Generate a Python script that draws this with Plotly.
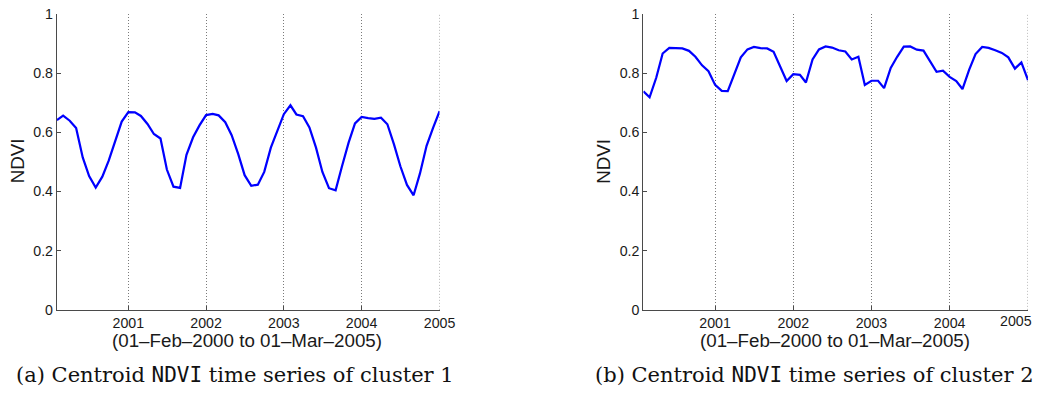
import pandas as pd
import plotly.graph_objects as go

# Monthly sampling dates: 01-Feb-2000 .. 01-Jan-2005
months = pd.date_range("2000-02-01", periods=60, freq="MS")

# Centroid NDVI of cluster 1 (one value per month)
ndvi_cluster1 = [
    0.641, 0.656, 0.639, 0.614, 0.515, 0.452, 0.413, 0.450, 0.504, 0.570, 0.636,
    0.668, 0.667, 0.655, 0.628, 0.594, 0.579, 0.474, 0.416, 0.412, 0.524, 0.583, 0.623,
    0.658, 0.662, 0.657, 0.634, 0.590, 0.526, 0.455, 0.419, 0.423, 0.466, 0.548, 0.603,
    0.661, 0.691, 0.660, 0.654, 0.616, 0.548, 0.466, 0.411, 0.404, 0.485, 0.565, 0.630,
    0.652, 0.648, 0.645, 0.649, 0.627, 0.559, 0.485, 0.422, 0.387, 0.461, 0.554, 0.614,
    0.671,
]

# Centroid NDVI of cluster 2 (one value per month)
ndvi_cluster2 = [
    0.738, 0.718, 0.784, 0.866, 0.885, 0.885, 0.883, 0.875, 0.855, 0.826, 0.806,
    0.760, 0.740, 0.739, 0.800, 0.853, 0.880, 0.888, 0.884, 0.883, 0.872, 0.822, 0.773,
    0.796, 0.794, 0.768, 0.846, 0.880, 0.890, 0.886, 0.877, 0.873, 0.846, 0.855, 0.760,
    0.774, 0.774, 0.749, 0.817, 0.855, 0.889, 0.890, 0.879, 0.876, 0.839, 0.804, 0.808,
    0.787, 0.773, 0.746, 0.811, 0.864, 0.888, 0.885, 0.877, 0.868, 0.853, 0.815, 0.836,
    0.776,
]

year_ticks = ["2001-01-01", "2002-01-01", "2003-01-01", "2004-01-01", "2005-01-01"]
year_labels = ["2001", "2002", "2003", "2004", "2005"]
y_ticks = [0, 0.2, 0.4, 0.6, 0.8, 1]
y_labels = ["0", "0.2", "0.4", "0.6", "0.8", "1"]

x_label = "(01\u2013Feb\u20132000 to 01\u2013Mar\u20132005)"
captions = [
    "(a) Centroid <span style='font-family:DejaVu Sans Mono'>NDVI</span> time series of cluster 1",
    "(b) Centroid <span style='font-family:DejaVu Sans Mono'>NDVI</span> time series of cluster 2",
]

W, H = 1050, 398
# the page is shown slightly reduced (about 1035 px of the 1050 px width);
# layout positions below are given in displayed pixels and converted here
S = 1035 / 1050


def fx(px):
    return px / S / W


def fy(py):
    return (H - py / S) / H


SANS = "Liberation Sans, Arial, sans-serif"
SERIF = "DejaVu Serif, serif"
AXIS_COLOR = "#4a4a4a"
GRID_COLOR = "#7a7a7a"
GRID_DASH = "1px,2px"

fig = go.Figure()
fig.add_trace(go.Scatter(x=months, y=ndvi_cluster1, mode="lines",
                         line=dict(color="#0000ff", width=2.2 / S), xaxis="x", yaxis="y",
                         showlegend=False))
fig.add_trace(go.Scatter(x=months, y=ndvi_cluster2, mode="lines",
                         line=dict(color="#0000ff", width=2.2 / S), xaxis="x2", yaxis="y2",
                         showlegend=False))

# panel placement (left, right) and vertical extent, in displayed pixels
panels = [(57, 440), (644, 1029)]
top_px, bottom_px = 6, 310
ydom = [fy(bottom_px), fy(top_px)]

tick_font = dict(family=SANS, size=14 / S, color="#1a1a1a")
common_x = dict(
    type="date", range=["2000-02-01", "2005-01-01"],
    tickmode="array", tickvals=year_ticks,
    ticks="inside", ticklen=4, tickcolor=AXIS_COLOR,
    showline=True, linecolor=AXIS_COLOR, linewidth=1.2,
    showgrid=True, gridcolor=GRID_COLOR, griddash=GRID_DASH, gridwidth=1,
    zeroline=False, tickfont=tick_font, ticklabeloverflow="allow",
)
common_y = dict(
    range=[0, 1], tickmode="array", tickvals=y_ticks, ticktext=y_labels,
    ticks="inside", ticklen=4, tickcolor=AXIS_COLOR,
    showline=True, linecolor=AXIS_COLOR, linewidth=1.2,
    showgrid=False, zeroline=False, tickfont=tick_font, ticklabeloverflow="allow",
)

# the right panel's last year label sits against the page edge, so it is
# written as an annotation anchored to that edge instead
right_labels = year_labels[:-1] + [""]

layout = dict(
    width=W, height=H, autosize=False, margin=dict(l=0, r=0, t=0, b=0),
    paper_bgcolor="white", plot_bgcolor="white",
    xaxis=dict(common_x, ticktext=year_labels,
               domain=[fx(panels[0][0]), fx(panels[0][1])], anchor="y"),
    yaxis=dict(common_y, domain=ydom, anchor="x"),
    xaxis2=dict(common_x, ticktext=right_labels,
                domain=[fx(panels[1][0]), fx(panels[1][1])], anchor="y2"),
    yaxis2=dict(common_y, domain=ydom, anchor="x2"),
)

# dotted grid line on the last year tick, which sits on the right edge
shapes = []
for xr, yr in (("x", "y"), ("x2", "y2")):
    shapes.append(dict(type="line", xref=xr, yref=yr + " domain",
                       x0=year_ticks[-1], x1=year_ticks[-1], y0=0, y1=1,
                       line=dict(color=GRID_COLOR, width=1, dash=GRID_DASH)))

annotations = []
label_font = dict(family=SANS, size=18.5 / S, color="#1a1a1a")
for l, r in panels:
    cx = (l + r) / 2
    annotations.append(dict(
        text=x_label, xref="paper", yref="paper",
        x=fx(cx - 1), y=fy(341), xanchor="center", yanchor="middle",
        showarrow=False, font=label_font))
    annotations.append(dict(
        text="NDVI", xref="paper", yref="paper", textangle=-90,
        x=fx(l - 39.5), y=fy(157), xanchor="center", yanchor="middle",
        showarrow=False, font=label_font))

annotations.append(dict(
    text=year_labels[-1], xref="paper", yref="paper",
    x=1, y=fy(321), xanchor="right", yanchor="middle",
    showarrow=False, font=tick_font))

cap_centers = [235, 815]
for c, txt in zip(cap_centers, captions):
    annotations.append(dict(
        text=txt, xref="paper", yref="paper",
        x=fx(c), y=fy(377), xanchor="center", yanchor="middle",
        showarrow=False, font=dict(family=SERIF, size=21, color="#111111")))

fig.update_layout(layout, annotations=annotations, shapes=shapes)
fig.write_html("out.html")
